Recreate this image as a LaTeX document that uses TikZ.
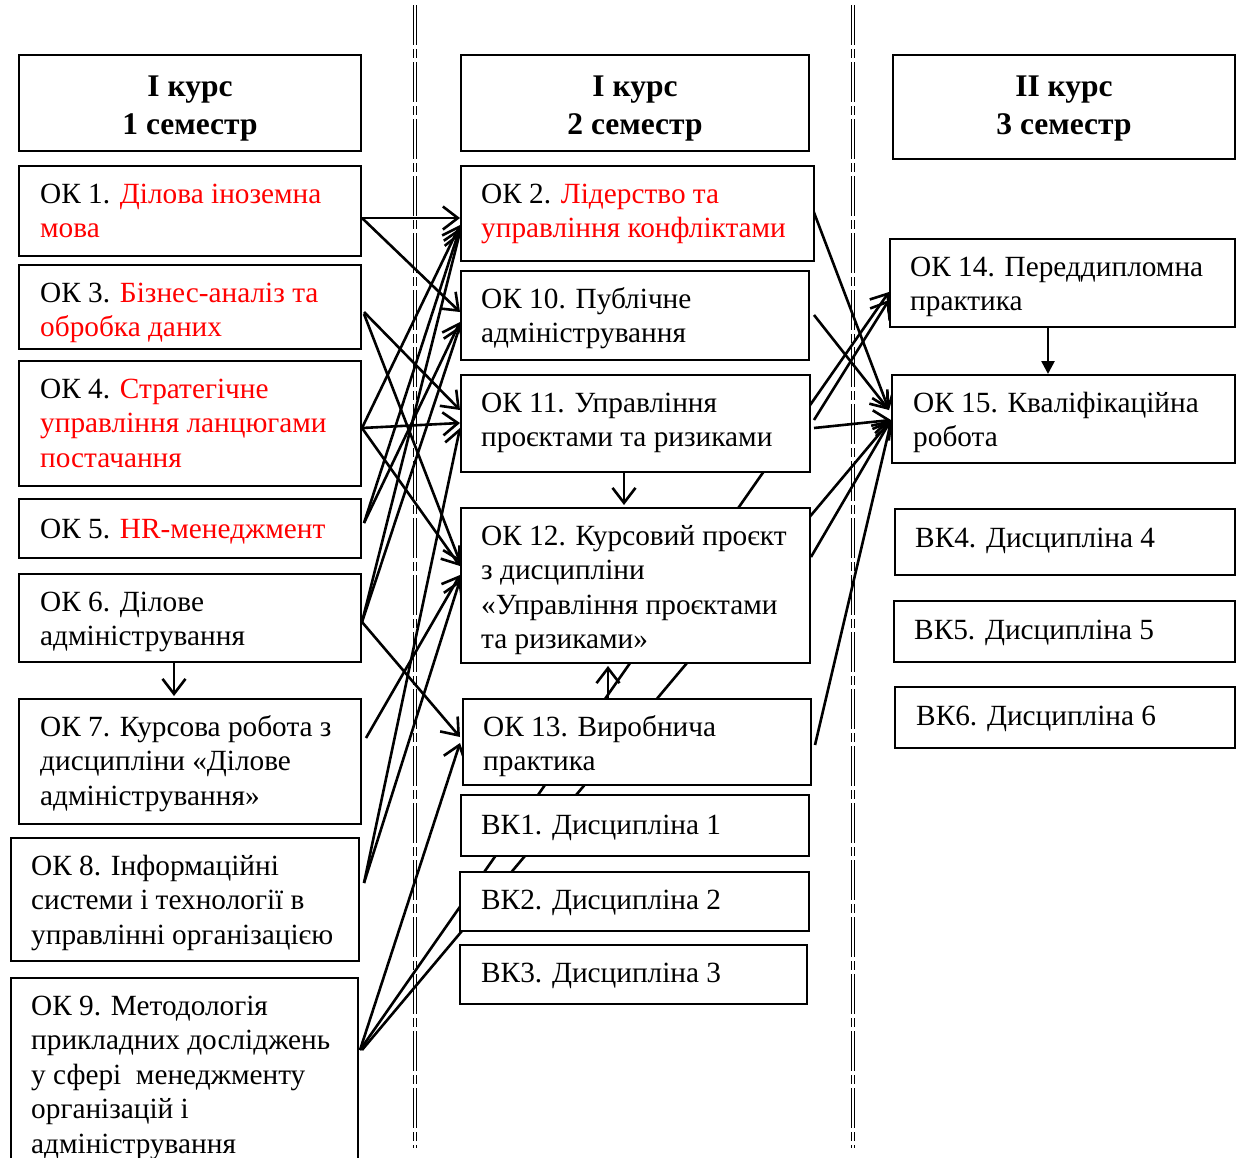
\documentclass[tikz,border=0pt]{standalone}
\usepackage{fontspec}
\setmainfont{Liberation Serif}
\usetikzlibrary{arrows.meta,calc,backgrounds}
\tikzset{
  box/.style={draw=black, line width=2pt, fill=white, anchor=north west, inner sep=0pt},
  txt/.style={anchor=north west, inner sep=0pt, align=left, font=\fontsize{29.3}{34.5}\selectfont},
  head/.style={anchor=north, inner sep=0pt, align=center, font=\fontsize{31.5}{38}\selectfont\bfseries},
  arr/.style={line width=2.6pt, -{Straight Barb[length=15pt,width=23pt]}},
  farr/.style={line width=2.6pt, -{Triangle[length=13pt,width=13pt]}},
  sepline/.style={line width=1.2pt, double=white, double distance=1.3pt, dash pattern=on 40pt off 4pt on 9pt off 4pt},
}
\newcommand\mkbox[5]{\node[box, minimum width=#4pt, minimum height=#5pt] (#1) at (#2,#3) {};}
\newcommand\mktxt[4]{\node[txt] (#1t) at ($(#1.north west)+(#2,#3+1)$) {\strut #4};}
\begin{document}
\begin{tikzpicture}[x=1pt,y=-1pt]
\useasboundingbox (0,0) rectangle (1240,1157);
\clip (0,0) rectangle (1240,1157);
% column 1
\mkbox{h1}{18}{54}{342}{96}
\mkbox{ok1}{18}{165}{342}{90}
\mkbox{ok3}{18}{264}{342}{84}
\mkbox{ok4}{18}{360}{342}{125}
\mkbox{ok5}{18}{498}{342}{59}
\mkbox{ok6}{18}{573}{342}{88}
\mkbox{ok7}{18}{698}{342}{125}
\mkbox{ok8}{10}{837}{348}{123}
\mkbox{ok9}{10}{977}{347}{200}
% column 2
\mkbox{h2}{460}{54}{348}{96}
\mkbox{ok2}{460}{165}{353}{95}
\mkbox{ok10}{460}{270}{348}{89}
\mkbox{ok11}{460}{374}{349}{97}
\mkbox{ok12}{460}{507}{349}{155}
\mkbox{ok13}{462}{698}{348}{86}
\mkbox{vk1}{460}{794}{348}{61}
\mkbox{vk2}{459}{871}{349}{59}
\mkbox{vk3}{459}{944}{347}{59}
% column 3
\mkbox{h3}{892}{54}{342}{104}
\mkbox{ok14}{889}{238}{345}{88}
\mkbox{ok15}{891}{374}{343}{88}
\mkbox{vk4}{894}{508}{340}{66}
\mkbox{vk5}{893}{600}{341}{61}
\mkbox{vk6}{894}{686}{340}{61}
% headers
\node[head] (h1t) at ($(h1.north)+(0,16)$) {\strut І курс\\1 семестр};
\node[head] (h2t) at ($(h2.north)+(0,16)$) {\strut І курс\\2 семестр};
\node[head] (h3t) at ($(h3.north)+(0,16)$) {\strut ІІ курс\\3 семестр};
% texts
\mktxt{ok1}{22}{13}{ОК 1. \textcolor{red}{Ділова іноземна}\\\textcolor{red}{мова}}
\mktxt{ok3}{22}{13}{ОК 3. \textcolor{red}{Бізнес-аналіз та}\\\textcolor{red}{обробка даних}}
\mktxt{ok4}{22}{13}{ОК 4. \textcolor{red}{Стратегічне}\\\textcolor{red}{управління ланцюгами}\\\textcolor{red}{постачання}}
\mktxt{ok5}{22}{15}{ОК 5. \textcolor{red}{HR-менеджмент}}
\mktxt{ok6}{22}{13}{ОК 6. Ділове\\адміністрування}
\mktxt{ok7}{22}{13}{ОК 7. Курсова робота з\\дисципліни «Ділове\\адміністрування»}
\mktxt{ok8}{21}{13}{ОК 8. Інформаційні\\системи і технології в\\управлінні організацією}
\mktxt{ok9}{21}{13}{ОК 9. Методологія\\прикладних досліджень\\у сфері\ \ менеджменту\\організацій і\\адміністрування}
\mktxt{ok2}{21}{13}{ОК 2. \textcolor{red}{Лідерство та}\\\textcolor{red}{управління конфліктами}}
\mktxt{ok10}{21}{13}{ОК 10. Публічне\\адміністрування}
\mktxt{ok11}{21}{13}{ОК 11. Управління\\проєктами та ризиками}
\mktxt{ok12}{21}{13}{ОК 12. Курсовий проєкт\\з дисципліни\\«Управління проєктами\\та ризиками»}
\mktxt{ok13}{21}{13}{ОК 13. Виробнича\\практика}
\mktxt{vk1}{21}{15}{ВК1. Дисципліна 1}
\mktxt{vk2}{22}{13}{ВК2. Дисципліна 2}
\mktxt{vk3}{22}{13}{ВК3. Дисципліна 3}
\mktxt{ok14}{21}{13}{ОК 14. Переддипломна\\практика}
\mktxt{ok15}{22}{13}{ОК 15. Кваліфікаційна\\робота}
\mktxt{vk4}{21}{14}{ВК4. Дисципліна 4}
\mktxt{vk5}{21}{14}{ВК5. Дисципліна 5}
\mktxt{vk6}{22}{14}{ВК6. Дисципліна 6}
\begin{pgfonlayer}{background}
% dividers
\coordinate (d1a) at (415,5); \coordinate (d1b) at (415,1148);
\coordinate (d2a) at (853,5); \coordinate (d2b) at (853,1148);
\draw[sepline] (d1a) -- (d1b);
\draw[sepline] (d2a) -- (d2b);
% column 1 -> column 2
\draw[arr] ($(ok1.north east)+(0,53)$) -- ($(ok2.north west)+(0,53)$);
\draw[arr] ($(ok1.north east)+(0,53)$) -- ($(ok10.north west)+(0,42)$);
\draw[arr] ($(ok3.north east)+(2,48)$) -- ($(ok11.north west)+(0,36)$);
\draw[arr] ($(ok3.north east)+(2,50)$) -- ($(ok12.north west)+(0,55)$);
\draw[arr] ($(ok4.north east)+(0,68)$) -- ($(ok2.north west)+(0,60)$);
\draw[arr] ($(ok4.north east)+(0,68)$) -- ($(ok11.north west)+(0,49)$);
\draw[arr] ($(ok4.north east)+(0,68)$) -- ($(ok12.north west)+(0,59)$);
\draw[arr] ($(ok5.north east)+(2,25)$) -- ($(ok2.north west)+(0,63)$);
\draw[arr] ($(ok5.north east)+(2,25)$) -- ($(ok10.north west)+(0,52)$);
\draw[arr] ($(ok6.north east)+(0,49)$) -- ($(ok2.north west)+(0,67)$);
\draw[arr] ($(ok6.north east)+(0,49)$) -- ($(ok10.north west)+(0,56)$);
\draw[arr] ($(ok6.north east)+(0,49)$) -- ($(ok13.north west)+(-2,39)$);
\draw[arr] ($(ok7.north east)+(4,40)$) -- ($(ok12.north west)+(0,68)$);
\draw[arr] ($(ok8.north east)+(4,46)$) -- ($(ok11.north west)+(0,54)$);
\draw[arr] ($(ok8.north east)+(4,46)$) -- ($(ok12.north west)+(0,73)$);
\draw[arr] ($(ok9.north east)+(1,73)$) -- ($(ok13.north west)+(-2,45)$);
\draw[arr] ($(ok9.north east)+(1,73)$) -- ($(ok14.north west)+(0,54)$);
\draw[arr] ($(ok9.north east)+(3,73)$) -- ($(ok15.north west)+(0,46)$);
% column 2 -> column 3
\draw[arr] ($(ok2.north east)+(-5,37)$) -- ($(ok15.north west)+(-2,36)$);
\draw[arr] ($(ok10.north east)+(4,45)$) -- ($(ok15.north west)+(-2,36)$);
\draw[arr] ($(ok11.north east)+(3,46)$) -- ($(ok14.north west)+(0,62)$);
\draw[arr] ($(ok11.north east)+(3,54)$) -- ($(ok15.north west)+(0,46)$);
\draw[arr] ($(ok12.north east)+(0,50)$) -- ($(ok15.north west)+(0,46)$);
\draw[arr] ($(ok13.north east)+(3,47)$) -- ($(ok15.north west)+(0,48)$);
% vertical arrows
\draw[arr] ($(ok6.south west)+(156,0)$) -- ($(ok7.north west)+(156,-2)$);
\draw[arr] ($(ok11.south west)+(164,0)$) -- ($(ok12.north west)+(164,-2)$);
\draw[arr] ($(ok13.north west)+(146,0)$) -- ($(ok12.south west)+(148,2)$);
\draw[farr] ($(ok14.south west)+(159,0)$) -- ($(ok15.north west)+(157,0)$);
\end{pgfonlayer}
\end{tikzpicture}
\end{document}
